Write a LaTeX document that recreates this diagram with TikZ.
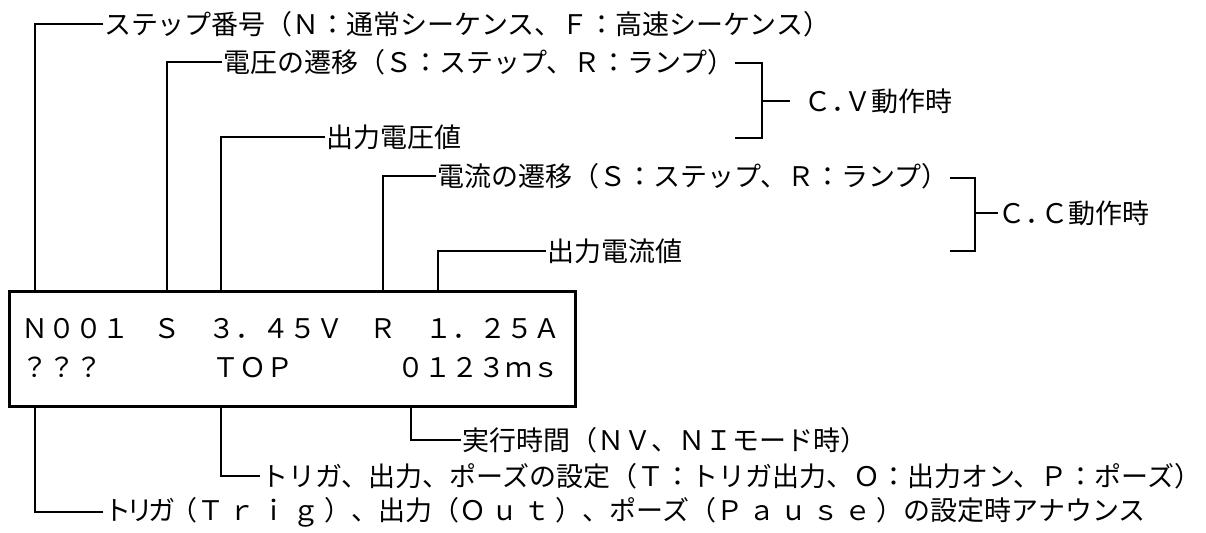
\documentclass[tikz,border=0pt]{standalone}
\usepackage{fontspec}
\setmainfont{Noto Sans CJK JP}
\usetikzlibrary{calc}
\newcommand\wk{\kern2.5pt}
\newcommand\nk{\kern-2.5pt}
\tikzset{
  lbl/.style={anchor=west, inner sep=0.3pt, font=\fontsize{13.5pt}{16pt}\selectfont},
  disptxt/.style={anchor=base west, inner sep=0pt, font=\fontsize{13.5pt}{16pt}\selectfont},
  conn/.style={line width=0.7pt},
  dispbox/.style={draw, line width=1.3pt, minimum width=283pt, minimum height=57.5pt, anchor=north west, inner sep=0pt}
}
\begin{document}
\begin{tikzpicture}[x=0.5pt,y=-0.5pt]
\useasboundingbox (0,0) rectangle (1206,532);
% display box
\node[dispbox] (disp) at (8,290) {};
\node[disptxt] (r1a) at (21.5,338) {Ｎ００１};
\node[disptxt] (r1b) at (153.5,338) {Ｓ};
\node[disptxt] (r1c) at (208.5,338) {３．４５Ｖ};
\node[disptxt] (r1d) at (369.5,338) {Ｒ};
\node[disptxt] (r1e) at (425.5,338) {１．２５Ａ};
\node[disptxt] (r2a) at (21,377) {？？？};
\node[disptxt] (r2b) at (212,377) {ＴＯＰ};
\node[disptxt] (r2c) at (397,377) {０１２３ｍｓ};
% labels above
\node[lbl] (t1) at (103,24) {ステップ番号（Ｎ：通常シーケンス、Ｆ：高速シーケンス）};
\node[lbl] (t2) at (222,62) {電圧の遷移（Ｓ：ステップ、Ｒ：ランプ）};
\node[lbl] (t3) at (325,137) {出力電圧値};
\node[lbl] (t4) at (436,176) {電流の遷移（Ｓ：ステップ、Ｒ：ランプ）};
\node[lbl] (t5) at (546,251) {出力電流値};
\node[lbl] (cv) at (803,101) {Ｃ．\kern-6.75ptＶ動作時};
\node[lbl] (cc) at (997.5,213) {Ｃ．\kern-5.5ptＣ動作時};
% labels below
\node[lbl] (b1) at (461,440) {実行時間（ＮＶ、ＮＩモード時）};
\node[lbl] (b2) at (260,476) {トリガ、出力、ポーズの設定（Ｔ：トリガ出力、Ｏ：出力オン、Ｐ：ポーズ\makebox[0.45em][l]{）}};
\node[lbl] (b3) at (103,512) {ト\nk リ\nk ガ\nk（Ｔ\wk ｒ\wk ｉ\wk ｇ\wk）、出力（Ｏ\wk ｕ\wk ｔ\wk）、ポーズ（Ｐ\wk ａ\wk ｕ\wk ｓ\wk ｅ\wk）の設定時アナウンス};
% connectors above
\draw[conn] (t1.west) -| ($(disp.north west)+(27,0)$);
\draw[conn] (t2.west) -| ($(disp.north west)+(159,0)$);
\draw[conn] (t3.west) -| ($(disp.north west)+(213,0)$);
\draw[conn] (t4.west) -| ($(disp.north west)+(375,0)$);
\draw[conn] (t5.west) -| ($(disp.north west)+(430,0)$);
% connectors below
\draw[conn] (b1.west) -| ($(disp.south west)+(403,0)$);
\draw[conn] (b2.west) -| ($(disp.south west)+(213,0)$);
\draw[conn] (b3.west) -| ($(disp.south west)+(27,0)$);
% brackets
\coordinate (cvt) at (735,63);
\coordinate (cvm) at (762,101);
\coordinate (cvb) at (735,138);
\draw[conn] (cvt) -| (cvm) |- (cvb);
\draw[conn] (cvm) -- ($(cv.west)+(-13,0)$);
\coordinate (cct) at (950,178);
\coordinate (ccm) at (975,213);
\coordinate (ccb) at (950,251);
\draw[conn] (cct) -| (ccm) |- (ccb);
\draw[conn] (ccm) -- (cc.west);
\end{tikzpicture}
\end{document}
